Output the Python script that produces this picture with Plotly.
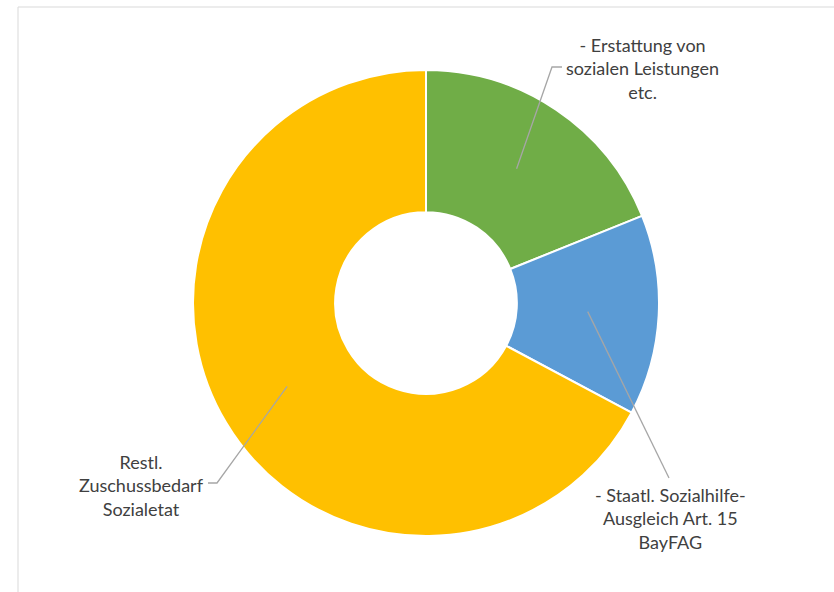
import math
import plotly.graph_objects as go

# ---- data ----
labels = [
    "- Erstattung von<br>sozialen Leistungen<br>etc.",
    "- Staatl. Sozialhilfe-<br>Ausgleich Art. 15<br>BayFAG",
    "Restl.<br>Zuschussbedarf<br>Sozialetat",
]
values = [18.9, 13.9, 67.2]
colors = ["#70AD47", "#5B9BD5", "#FFC000"]

W, H = 834, 592
CX, CY, R = 426, 303, 233
HOLE = 0.39

def px(x):
    return x / W

def py(y):
    return 1 - y / H

fig = go.Figure()
fig.add_trace(go.Pie(
    labels=labels,
    values=values,
    hole=HOLE,
    sort=False,
    direction="clockwise",
    rotation=0,
    marker=dict(colors=colors, line=dict(color="white", width=2)),
    textinfo="none",
    hoverinfo="label+percent",
    domain=dict(x=[px(CX - R), px(CX + R)], y=[py(CY + R), py(CY - R)]),
    showlegend=False,
))

# label placement (layout) and elbow points for leader lines
label_pos = [(642, 68), (670, 518), (141, 485)]
leader_ends = [[(552, 67), (562, 67)], [(669, 478)], [(217, 483), (208, 483)]]

total = sum(values)
cum = 0.0
shapes = [dict(type="rect", xref="paper", yref="paper",
               x0=px(18), y0=py(600), x1=px(845), y1=py(7),
               line=dict(color="#D9D9D9", width=1), layer="below")]
annotations = []
r_mid = R * (1 + HOLE) / 2
for i, v in enumerate(values):
    mid = (cum + v / 2) / total * 2 * math.pi
    cum += v
    ax = CX + r_mid * math.sin(mid)
    ay = CY - r_mid * math.cos(mid)
    pts = [(ax, ay)] + leader_ends[i]
    path = "M " + " L ".join(f"{px(x)},{py(y)}" for x, y in pts)
    shapes.append(dict(type="path", xref="paper", yref="paper", path=path,
                       line=dict(color="#A6A6A6", width=1.3)))
    lx, ly = label_pos[i]
    annotations.append(dict(x=px(lx), y=py(ly), xref="paper", yref="paper",
                            text=labels[i], showarrow=False, align="center",
                            xanchor="center", yanchor="middle",
                            font=dict(family="Lato", size=18, color="#404040")))

fig.update_layout(
    width=W, height=H,
    margin=dict(l=0, r=0, t=0, b=0),
    paper_bgcolor="white",
    plot_bgcolor="white",
    shapes=shapes,
    annotations=annotations,
)

fig.write_html("out.html", config={"displayModeBar": False},
               post_script="document.body.style.margin='0';")
